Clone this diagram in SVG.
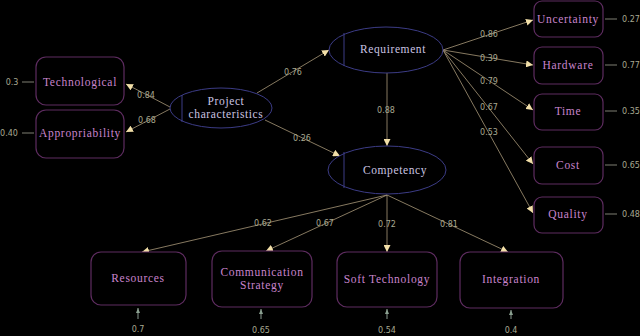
<svg xmlns="http://www.w3.org/2000/svg" width="640" height="336" viewBox="0 0 640 336">
<defs>
<marker id="ah" viewBox="0 0 10 10" refX="10" refY="5" markerWidth="7" markerHeight="7" orient="auto" markerUnits="userSpaceOnUse">
<path d="M0,0 L10,5 L0,10 z" fill="#f2dfa8"/>
</marker>
<marker id="ahs" viewBox="0 0 10 10" refX="10" refY="5" markerWidth="5" markerHeight="5" orient="auto" markerUnits="userSpaceOnUse">
<path d="M0,1 L10,5 L0,9 z" fill="#8aa090"/>
</marker>
</defs>
<style>
.box{fill:#000;stroke:#5e2c60;stroke-width:1.2}
.ell{fill:#000;stroke:#3c3c86;stroke-width:1}
.bt{font-family:'Liberation Serif','DejaVu Serif',serif;font-size:11.5px;fill:#c884cc;text-anchor:middle;letter-spacing:0.7px}
.et{font-family:'Liberation Serif','DejaVu Serif',serif;font-size:11.5px;fill:#cac4e2;text-anchor:middle;letter-spacing:0.6px}
.n{font-family:'DejaVu Sans',sans-serif;font-size:8px;fill:#a8a890;text-anchor:middle}
.c{stroke:#a89878;stroke-width:0.8;fill:none;marker-end:url(#ah)}
.e{stroke:#a0a090;stroke-width:0.8;fill:none}
.eu{stroke:#8a9a90;stroke-width:1;fill:none;marker-end:url(#ahs)}
</style>
<rect width="640" height="336" fill="#000"/>
<g id="connectors">
<line class="c" x1="170" y1="107" x2="126" y2="84"/>
<line class="c" x1="170" y1="109" x2="126" y2="132"/>
<line class="c" x1="257" y1="93" x2="329" y2="50"/>
<line class="c" x1="265" y1="120" x2="340" y2="156"/>
<line class="c" x1="387" y1="73" x2="387" y2="146"/>
<line class="c" x1="443" y1="50" x2="533" y2="20"/>
<line class="c" x1="443" y1="50" x2="533" y2="65"/>
<line class="c" x1="443" y1="50" x2="533" y2="110"/>
<line class="c" x1="443" y1="50" x2="533" y2="164"/>
<line class="c" x1="443" y1="50" x2="533" y2="213"/>
<line class="c" x1="387" y1="195" x2="142" y2="252"/>
<line class="c" x1="387" y1="195" x2="266" y2="251"/>
<line class="c" x1="387" y1="195" x2="387" y2="252"/>
<line class="c" x1="387" y1="195" x2="508" y2="252"/>
<line class="e" x1="22" y1="82" x2="34" y2="82"/>
<line class="e" x1="22" y1="133" x2="34" y2="133"/>
<line class="e" x1="605" y1="19" x2="617" y2="19"/>
<line class="e" x1="605" y1="65" x2="617" y2="65"/>
<line class="e" x1="605" y1="111" x2="617" y2="111"/>
<line class="e" x1="605" y1="165" x2="617" y2="165"/>
<line class="e" x1="605" y1="214" x2="617" y2="214"/>
<line class="eu" x1="138" y1="319" x2="138" y2="308"/>
<line class="eu" x1="261" y1="319" x2="261" y2="309"/>
<line class="eu" x1="387" y1="319" x2="387" y2="309"/>
<line class="eu" x1="511" y1="319" x2="511" y2="310"/>
<text class="n" x="146" y="98">0.84</text>
<text class="n" x="147" y="123">0.68</text>
<text class="n" x="293" y="75">0.76</text>
<text class="n" x="302" y="141">0.26</text>
<text class="n" x="386" y="113">0.88</text>
<text class="n" x="489" y="37">0.86</text>
<text class="n" x="489" y="61">0.39</text>
<text class="n" x="489" y="84">0.79</text>
<text class="n" x="489" y="110">0.67</text>
<text class="n" x="489" y="135">0.53</text>
<text class="n" x="263" y="226">0.62</text>
<text class="n" x="325" y="226">0.67</text>
<text class="n" x="387" y="227">0.72</text>
<text class="n" x="449" y="227">0.81</text>
<text class="n" x="12" y="85">0.3</text>
<text class="n" x="9" y="136">0.40</text>
<text class="n" x="631" y="22">0.27</text>
<text class="n" x="631" y="68">0.77</text>
<text class="n" x="631" y="114">0.35</text>
<text class="n" x="631" y="168">0.65</text>
<text class="n" x="631" y="217">0.48</text>
<text class="n" x="138" y="332">0.7</text>
<text class="n" x="261" y="333">0.65</text>
<text class="n" x="387" y="333">0.54</text>
<text class="n" x="511" y="333">0.4</text>
</g>
<g id="technological"><rect class="box" x="36" y="57" width="88" height="48" rx="10"/><text class="bt" x="80" y="86">Technological</text></g>
<g id="appropriability"><rect class="box" x="36" y="110" width="88" height="48" rx="10"/><text class="bt" x="80" y="137">Appropriability</text></g>
<g id="project"><ellipse class="ell" cx="221" cy="108" rx="51" ry="20"/><line class="ell" x1="182" y1="95" x2="182" y2="122"/><text class="et" x="226" y="105">Project</text><text class="et" x="226" y="118">characteristics</text></g>
<g id="requirement"><ellipse class="ell" cx="386" cy="50" rx="57" ry="23"/><line class="ell" x1="344" y1="33" x2="344" y2="66"/><text class="et" x="393" y="53">Requirement</text></g>
<g id="competency"><ellipse class="ell" cx="387" cy="170" rx="59" ry="24"/><line class="ell" x1="344" y1="152" x2="344" y2="188"/><text class="et" x="395" y="174">Competency</text></g>
<g id="uncertainty"><rect class="box" x="534" y="1" width="69" height="36" rx="8"/><text class="bt" x="568" y="23">Uncertainty</text></g>
<g id="hardware"><rect class="box" x="534" y="47" width="69" height="37" rx="8"/><text class="bt" x="568" y="69">Hardware</text></g>
<g id="time"><rect class="box" x="534" y="94" width="69" height="36" rx="8"/><text class="bt" x="568" y="115">Time</text></g>
<g id="cost"><rect class="box" x="534" y="147" width="69" height="37" rx="8"/><text class="bt" x="568" y="169">Cost</text></g>
<g id="quality"><rect class="box" x="534" y="197" width="69" height="36" rx="8"/><text class="bt" x="568" y="218">Quality</text></g>
<g id="resources"><rect class="box" x="91" y="252" width="95" height="53" rx="10"/><text class="bt" x="138" y="282">Resources</text></g>
<g id="communication"><rect class="box" x="212" y="251" width="100" height="56" rx="10"/><text class="bt" x="262" y="276">Communication</text><text class="bt" x="262" y="289">Strategy</text></g>
<g id="softtech"><rect class="box" x="337" y="252" width="100" height="55" rx="10"/><text class="bt" x="387" y="283">Soft Technology</text></g>
<g id="integration"><rect class="box" x="460" y="252" width="103" height="56" rx="10"/><text class="bt" x="511" y="283">Integration</text></g>
</svg>
